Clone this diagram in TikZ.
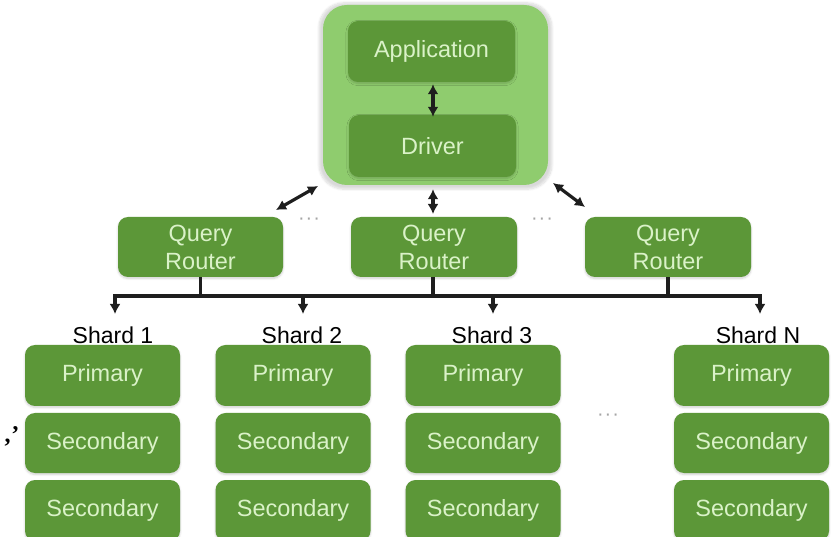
\documentclass[tikz,border=0pt]{standalone}
\usepackage{fontspec}
\setmainfont{Liberation Sans}
\newfontfamily\markfont{Liberation Serif}
\usetikzlibrary{arrows.meta,shadows.blur}

\definecolor{boxgreen}{RGB}{92,151,56}
\definecolor{paleGreen}{RGB}{143,204,110}
\definecolor{boxtext}{RGB}{218,242,200}
\definecolor{linedark}{RGB}{30,30,30}
\definecolor{dotgray}{RGB}{165,165,165}

\tikzset{
  greenbox/.style={rectangle, rounded corners=10pt, fill=boxgreen,
    text=boxtext, font=\fontsize{23.5}{28}\selectfont, align=center,
    inner sep=0pt,
    blur shadow={shadow xshift=0pt, shadow yshift=-1.5pt,
      shadow blur steps=6, shadow opacity=18}},
  hostbox/.style={rectangle, rounded corners=24pt, fill=paleGreen,
    inner sep=0pt,
    blur shadow={shadow xshift=0pt, shadow yshift=-1pt, shadow scale=1.035,
      shadow blur steps=10, shadow opacity=15}},
  shardlabel/.style={font=\fontsize{23}{28}\selectfont, text=black, inner sep=0pt},
  ellipsis/.style={text=dotgray, font=\fontsize{20}{20}\selectfont, inner sep=0pt},
  link/.style={draw=linedark, line width=3.2pt},
  twoway/.style={link, {Latex[length=10pt,width=11pt]}-{Latex[length=10pt,width=11pt]}},
  oneway/.style={link, -{Latex[length=10pt,width=11pt]}},
  x=1pt, y=-1pt
}

\newcommand{\threedots}{\textperiodcentered\hspace{1pt}\textperiodcentered\hspace{1pt}\textperiodcentered}

\begin{document}
\begin{tikzpicture}
\useasboundingbox (0,0) rectangle (836,537);

% client host with application and driver
\node[hostbox, minimum width=225pt, minimum height=180pt] (host) at (435.5,95) {};
\node[greenbox, minimum width=167pt, minimum height=61pt] (app) at (431.5,51.5) {Application};
\node[greenbox, minimum width=167pt, minimum height=62pt] (drv) at (432.5,146) {Driver};

% query routers
\node[greenbox, minimum width=165pt, minimum height=60pt] (qr1) at (200.5,247) {Query\\Router};
\node[greenbox, minimum width=166pt, minimum height=60pt] (qr2) at (434,247) {Query\\Router};
\node[greenbox, minimum width=166pt, minimum height=60pt] (qr3) at (668,247) {Query\\Router};

\node[ellipsis] (dotsA) at (309,221) {\threedots};
\node[ellipsis] (dotsB) at (542,221) {\threedots};

% client to routers
\draw[twoway] (app.south -| 433,0) ++(0,2) -- ([yshift=-2pt]drv.north -| 433,0);
\draw[twoway] (host.south -| 433,0) ++(0,4) coordinate (hs) -- (433,214) coordinate (qt);
\coordinate (hl) at (318,186);
\coordinate (rl) at (276,210);
\draw[twoway] (hl) -- (rl);
\coordinate (hr) at (553,183);
\coordinate (rr) at (585,207);
\draw[twoway] (hr) -- (rr);

% shards
\foreach \i/\cx/\lx/\name in {1/102.5/113/1, 2/293/302/2, 3/483/492/3, 4/751.5/758/N}{
  \node[shardlabel] (lab\i) at (\lx,335) {Shard \name};
  \node[greenbox, minimum width=155pt, minimum height=61pt] (pri\i) at (\cx,375.5) {Primary};
  \node[greenbox, minimum width=155pt, minimum height=60pt] (secA\i) at (\cx,443) {Secondary};
  \node[greenbox, minimum width=155pt, minimum height=61pt] (secB\i) at (\cx,510.5) {Secondary};
}
\node[ellipsis] (dotsC) at (608,417) {\threedots};

% routing bus
\coordinate (busL) at (115,296);
\coordinate (busR) at (760,296);
\draw[link, line cap=rect] (busL) -- (busR);
\draw[link] (qr1.south) -- (qr1.south |- busL);
\draw[link] (qr2.south -| 433,0) -- (433,296);
\draw[link] (qr3.south) -- (qr3.south |- busL);
\foreach \x/\i in {115/1, 303/2, 493/3, 760/4}{
  \coordinate (drop\i) at (\x,296);
  \coordinate (tip\i) at (\x,314);
  \draw[oneway] (drop\i) -- (tip\i);
}

% stray marks at the left edge
\node[inner sep=0pt, font=\markfont\bfseries\fontsize{24}{24}\selectfont] (mark) at (12,436) {,\kern1pt’};
\end{tikzpicture}
\end{document}
